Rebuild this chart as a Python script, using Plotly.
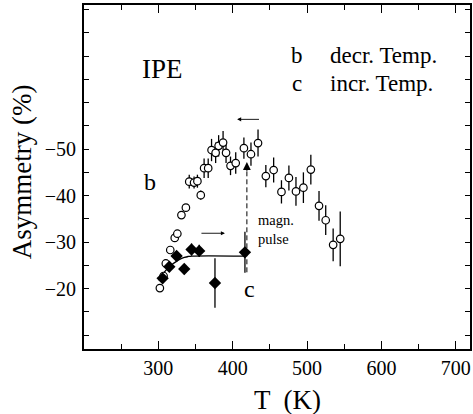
import plotly.graph_objects as go

# ---- data ----
b_T = [302, 307, 310, 316, 322, 325.5, 331, 337, 341.5, 348, 352.5, 357, 361.5, 367, 371.5, 377,
       381, 387, 391, 397, 404, 415, 424.5, 434, 444.5, 455, 465.5, 475.5, 485, 495, 505, 516,
       525, 535, 544.5]
b_A = [-20.1, -22.7, -25.4, -28.3, -30.9, -31.8, -35.8, -37.4, -43.0, -42.8, -43.1, -40.1, -45.9,
       -45.9, -49.8, -49.2, -50.7, -51.4, -49.2, -46.4, -47.0, -50.2, -48.9, -51.3, -44.2, -45.5,
       -40.8, -43.8, -40.9, -41.7, -45.6, -37.8, -34.7, -29.4, -30.7]
b_err = [0, 0, 0, 0, 0, 0, 0.5, 0.5, 1.5, 1.3, 1.4, 1.0, 2.1, 2.1, 2.4, 2.2, 2.3, 2.5, 2.2, 2.0,
         2.3, 2.3, 2.5, 2.9, 2.4, 2.7, 2.5, 2.7, 3.1, 3.3, 3.2, 3.2, 3.2, 3.5, 5.9]

c_T = [305.7, 314.7, 324.5, 334.8, 344.6, 354.9, 376.1, 416.4]
c_A = [-22.2, -24.7, -27.0, -24.2, -28.4, -28.1, -21.2, -27.8]
c_err = [0.3, 0.3, 0.3, 1.1, 1.3, 1.3, 5.3, 4.4]

fit_T = [300, 305, 310, 315, 320, 325, 330, 335, 340, 345, 416]
fit_A = [-21.8, -22.9, -23.9, -24.7, -25.4, -25.9, -26.4, -26.7, -26.9, -27.0, -27.0]

x_ticks = [300, 400, 500, 600, 700]
y_ticks = [-80, -75, -70, -65, -60, -55, -50, -45, -40, -35, -30, -25, -20, -15, -10]
y_label_vals = [-50, -40, -30, -20]
y_label_text = ["\u221250", "\u221240", "\u221230", "\u221220"]

# annotation anchors (data coords)
left_arrow = dict(x0=437.3, x1=405.9, y=-56.4)
right_arrow = dict(x0=355.9, x1=389.5, y=-31.9)
pulse_line = dict(x=419, y0=-23.5, y1=-45.5, tip=-47.2)

FONT = "Liberation Serif"
fig = go.Figure()

fig.add_trace(go.Scatter(x=fit_T, y=fit_A, mode="lines", line=dict(color="black", width=1.3, shape="spline"),
                         showlegend=False, hoverinfo="skip"))
fig.add_trace(go.Scatter(
    x=b_T, y=b_A, mode="markers",
    marker=dict(symbol="circle", size=7.5, color="white", line=dict(color="black", width=1.2)),
    error_y=dict(type="data", array=b_err, color="black", thickness=1.3, width=0),
    showlegend=False))
fig.add_trace(go.Scatter(
    x=c_T, y=c_A, mode="markers",
    marker=dict(symbol="diamond", size=9.5, color="black", line=dict(color="black", width=0)),
    error_y=dict(type="data", array=c_err, color="black", thickness=1.3, width=0),
    showlegend=False))
# invisible trace carrying the label-only axis
fig.add_trace(go.Scatter(x=c_T, y=c_A, mode="markers", marker=dict(opacity=0), yaxis="y2",
                         showlegend=False, hoverinfo="skip"))

# dashed line for magnetic pulse
fig.add_shape(type="line", x0=pulse_line["x"], x1=pulse_line["x"], y0=pulse_line["y0"], y1=pulse_line["y1"],
              xref="x", yref="y", line=dict(color="black", width=1, dash="5px,3px"))
fig.add_annotation(x=pulse_line["x"], y=pulse_line["tip"], ax=pulse_line["x"], ay=pulse_line["y1"] + 0.5,
                   xref="x", yref="y", axref="x", ayref="y", showarrow=True, arrowhead=2,
                   arrowsize=1.3, arrowwidth=1.2, arrowcolor="black", text="")
# direction arrows
fig.add_annotation(x=left_arrow["x1"], y=left_arrow["y"], ax=left_arrow["x0"], ay=left_arrow["y"],
                   xref="x", yref="y", axref="x", ayref="y", showarrow=True, arrowhead=2,
                   arrowsize=0.9, arrowwidth=0.9, arrowcolor="black", text="")
fig.add_annotation(x=right_arrow["x1"], y=right_arrow["y"], ax=right_arrow["x0"], ay=right_arrow["y"],
                   xref="x", yref="y", axref="x", ayref="y", showarrow=True, arrowhead=2,
                   arrowsize=0.9, arrowwidth=0.9, arrowcolor="black", text="")

def txt(x, y, s, size, xanchor="left", xref="x", yref="y", angle=0):
    fig.add_annotation(x=x, y=y, text=s, showarrow=False, xref=xref, yref=yref, xanchor=xanchor,
                       yanchor="middle", textangle=angle, font=dict(family=FONT, size=size, color="black"))

txt(306, -67.2, "IPE", 27, xanchor="center")
txt(486, -70.2, "b", 23, xanchor="center")
txt(528, -70.2, "decr. Temp.", 23)
txt(486, -64.2, "c", 23, xanchor="center")
txt(528, -64.2, "incr. Temp.", 23)
txt(289, -42.9, "b", 24, xanchor="center")
txt(423, -19.9, "c", 24, xanchor="center")
fig.add_annotation(x=431, y=-32.8, text="magn.<br>pulse", showarrow=False, xref="x", yref="y",
                   xanchor="left", yanchor="middle", align="left",
                   font=dict(family=FONT, size=14.5, color="black"))

# axis titles
txt(-0.162, 0.515, "Asymmetry (%)", 27, xanchor="center", xref="paper", yref="paper", angle=-90)
txt(0.528, -0.148, "T  (K)", 27, xanchor="center", xref="paper", yref="paper")

fig.update_layout(
    xaxis=dict(range=[200, 719], tickvals=x_ticks, ticktext=[str(v) for v in x_ticks],
               ticks="inside", ticklen=8, tickwidth=1.3, tickcolor="black",
               minor=dict(dtick=50, tick0=0, ticks="inside", ticklen=5, tickwidth=1.3, tickcolor="black"),
               showline=True, linecolor="black", linewidth=1.6, mirror="ticks",
               showgrid=False, zeroline=False, automargin=False,
               tickfont=dict(family=FONT, size=20, color="black")),
    yaxis=dict(range=[-7, -81], tickvals=y_ticks, showticklabels=False,
               ticks="inside", ticklen=5, tickwidth=1.3, tickcolor="black",
               showline=True, linecolor="black", linewidth=1.6, mirror="ticks",
               showgrid=False, zeroline=False, automargin=False),
    yaxis2=dict(range=[-7, -81], overlaying="y", anchor="free", position=0, side="left",
                autoshift=False, shift=-8, tickvals=y_label_vals, ticktext=y_label_text,
                ticks="", showline=False, showgrid=False, zeroline=False, automargin=False,
                tickfont=dict(family=FONT, size=20, color="black")),
    width=473, height=414, margin=dict(l=84, r=3, t=5, b=65, autoexpand=False),
    paper_bgcolor="white", plot_bgcolor="white", showlegend=False)

fig.write_html("out.html", config={"displayModeBar": False},
               post_script="document.body.style.margin='0';")
